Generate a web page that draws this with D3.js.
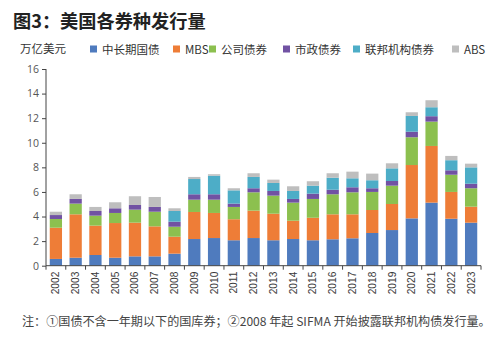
<!DOCTYPE html>
<html><head><meta charset="utf-8">
<script src="https://cdn.jsdelivr.net/npm/d3@7"></script>
<style>body{margin:0;background:#fff;}svg{display:block;}</style>
</head><body>
<svg id="c" width="503" height="344"></svg>
<script>
const years = ["2002","2003","2004","2005","2006","2007","2008","2009","2010","2011","2012","2013","2014","2015","2016","2017","2018","2019","2020","2021","2022","2023"];
const seriesNames = ["中长期国债","MBS","公司债券","市政债券","联邦机构债券","ABS"];
const treasury  = [0.55,0.65,0.87,0.65,0.76,0.76,0.98,2.17,2.25,2.07,2.25,2.07,2.17,2.07,2.15,2.23,2.66,2.90,3.85,5.13,3.82,3.50];
const mbs       = [2.54,3.53,2.39,2.82,2.74,2.44,1.38,2.20,2.04,1.71,2.23,2.16,1.49,1.83,2.03,1.95,1.87,2.12,4.34,4.61,2.18,1.30];
const corporate = [0.71,0.87,0.81,0.82,1.06,1.19,0.81,1.00,1.08,1.00,1.49,1.47,1.47,1.53,1.63,1.79,1.47,1.49,2.26,1.98,1.40,1.50];
const municipal = [0.32,0.38,0.38,0.38,0.38,0.39,0.41,0.44,0.44,0.27,0.33,0.38,0.30,0.43,0.37,0.41,0.30,0.38,0.45,0.44,0.36,0.37];
const agency    = [0,0,0,0,0,0,0.87,1.24,1.51,1.08,0.92,0.65,0.65,0.65,0.98,0.73,0.65,1.03,1.28,0.73,0.82,1.33];
const abs       = [0.27,0.38,0.33,0.49,0.71,0.81,0.22,0.17,0.12,0.17,0.30,0.27,0.38,0.36,0.36,0.54,0.54,0.41,0.30,0.57,0.35,0.30];
const yTicks = [0,2,4,6,8,10,12,14,16];
const colors = ["#4F7BBE","#EE7D37","#8CC04F","#7152A3","#4DADC7","#BEBEBE"];

const seriesVals = [treasury,mbs,corporate,municipal,agency,abs];
const rows = years.map((y,i)=>{const o={year:y};seriesNames.forEach((n,k)=>o[n]=seriesVals[k][i]);return o;});
const stacked = d3.stack().keys(seriesNames)(rows);

const svg = d3.select("#c");
const cjk = "'Noto Sans CJK SC','Noto Sans',sans-serif";
const pL=46, pR=481, pT=69, pB=265.7;

const x = d3.scaleBand().domain(years).range([pL,pR]).paddingInner(0.38).paddingOuter(0.19);
const y = d3.scaleLinear().domain([0,16]).range([pB,pT]);

// title
svg.append("text").attr("x",13).attr("y",28).attr("font-family",cjk).attr("font-weight","bold")
  .attr("font-size",18.2).attr("fill","#222").text("图3：美国各券种发行量");

// unit
svg.append("text").attr("x",20).attr("y",53).attr("font-family",cjk).attr("font-size",11.5)
  .attr("fill","#333").text("万亿美元");

// legend
const legendX = [90,173,209,283,353,452];
const lg = svg.append("g");
seriesNames.forEach((n,i)=>{
  lg.append("rect").attr("x",legendX[i]).attr("y",45.5).attr("width",7).attr("height",7).attr("fill",colors[i]);
  lg.append("text").attr("x",legendX[i]+12).attr("y",53.5).attr("font-family",cjk).attr("font-size",11.5)
    .attr("fill","#333").text(n);
});

// bars
svg.append("g").selectAll("g").data(stacked).join("g").attr("fill",(d,i)=>colors[i])
  .selectAll("rect").data(d=>d).join("rect")
  .attr("x",d=>x(d.data.year)).attr("width",x.bandwidth())
  .attr("y",d=>y(d[1])).attr("height",d=>Math.max(0,y(d[0])-y(d[1])));

// y axis
const ya = svg.append("g").attr("transform",`translate(${pL},0)`)
  .call(d3.axisLeft(y).tickValues(yTicks).tickSize(4).tickPadding(3));
ya.selectAll("text").attr("font-family","'Open Sans','DejaVu Sans',sans-serif").attr("font-size",10.5).attr("fill","#555");
ya.selectAll("line").attr("stroke","#444");
ya.select(".domain").attr("stroke","#444").attr("d",`M0,${pB}V${pT}`);

// x axis
const xa = svg.append("g").attr("transform",`translate(0,${pB})`);
xa.append("line").attr("x1",pL).attr("x2",pR).attr("stroke","#444");
const step = x.step();
const bounds = years.map((yr)=>x(yr)-(step-x.bandwidth())/2).concat([pR]);
xa.selectAll(".tk").data(bounds).join("line").attr("class","tk")
  .attr("x1",d=>d).attr("x2",d=>d).attr("y1",0).attr("y2",4).attr("stroke","#444");
xa.selectAll(".lb").data(years).join("text").attr("class","lb")
  .attr("transform",d=>`translate(${x(d)+x.bandwidth()/2+3.5},6) rotate(-90)`)
  .attr("text-anchor","end").attr("font-family","'Liberation Sans Narrow','Liberation Sans',sans-serif")
  .attr("font-size",10.2).attr("fill","#3a3a3a").text(d=>d);

// footnote
svg.append("text").attr("x",22).attr("y",326).attr("font-family",cjk).attr("font-size",12.1)
  .attr("fill","#444").text("注：①国债不含一年期以下的国库券；②2008 年起 SIFMA 开始披露联邦机构债发行量。");
</script>
</body></html>
